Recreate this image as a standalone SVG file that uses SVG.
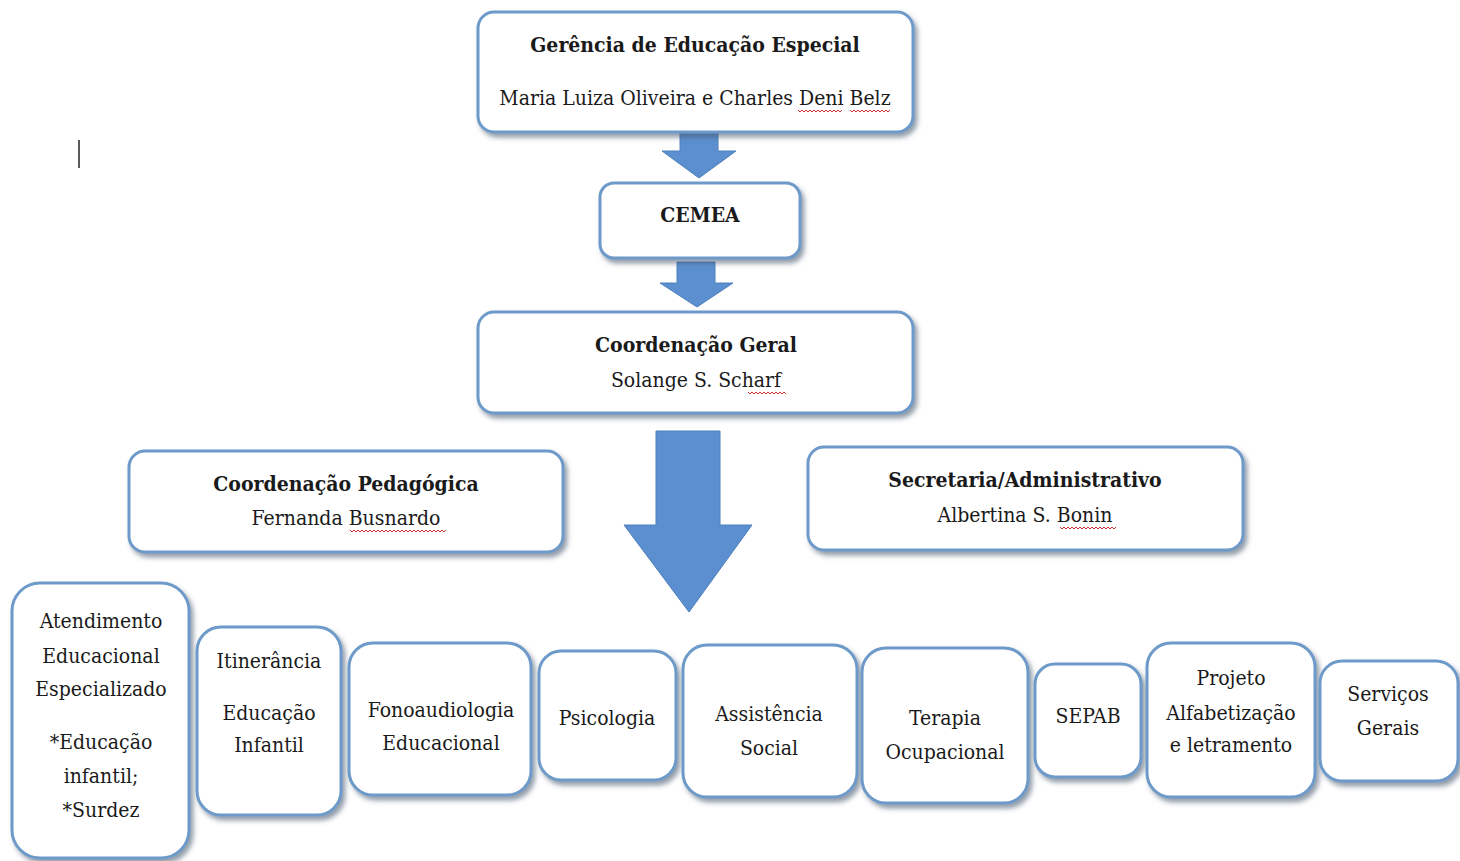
<svg xmlns="http://www.w3.org/2000/svg" width="1460" height="861" viewBox="0 0 1460 861">
<defs>
<filter id="sh" x="-10%" y="-10%" width="130%" height="140%">
<feDropShadow dx="3" dy="4" stdDeviation="2.5" flood-color="#4a5a70" flood-opacity="0.6"/>
</filter>
<style>
.box{fill:#ffffff;stroke:#6d9ac9;stroke-width:3;filter:url(#sh)}
.arr{fill:#5b8fd0;stroke:#4f80bd;stroke-width:1}
text{font-family:"DejaVu Serif","Liberation Serif",serif;font-stretch:condensed;fill:#1a1a1a;text-anchor:middle}
.b{font-weight:bold;font-size:21px}
.n{font-size:21px}
.s{font-size:21px}
.wav{fill:none;stroke:#d03030;stroke-width:1}
</style>
</defs>
<rect width="1460" height="861" fill="#ffffff"/>
<line x1="79" y1="140" x2="79" y2="168" stroke="#222" stroke-width="1.5"/>
<g id="connectors">
<polygon class="arr" points="680,132 718,132 718,151 736,151 699,178 662,151 680,151"/>
<polygon class="arr" points="677,262 715,262 715,283 733,283 697,307 660,283 677,283"/>
<polygon class="arr" points="656,431 720,431 720,525 752,525 689,612 624,525 656,525"/>
</g>
<g id="gerencia">
<rect class="box" x="478" y="12" width="435" height="120" rx="16"/>
<text class="b" x="695" y="52">Gerência de Educação Especial</text>
<text class="n" x="695" y="105">Maria Luiza Oliveira e Charles Deni Belz</text>
<path class="wav" d="M798,110 l2,2 l2,-2 l2,2 l2,-2 l2,2 l2,-2 l2,2 l2,-2 l2,2 l2,-2 l2,2 l2,-2 l2,2 l2,-2 l2,2 l2,-2 l2,2 l2,-2 l2,2 l2,-2 l2,2 l2,-2"/>
<path class="wav" d="M850,110 l2,2 l2,-2 l2,2 l2,-2 l2,2 l2,-2 l2,2 l2,-2 l2,2 l2,-2 l2,2 l2,-2 l2,2 l2,-2 l2,2 l2,-2 l2,2 l2,-2 l2,2 l2,-2"/>
</g>
<g id="cemea">
<rect class="box" x="600" y="183" width="200" height="75" rx="14"/>
<text class="b" x="700" y="222">CEMEA</text>
</g>
<g id="coord-geral">
<rect class="box" x="478" y="312" width="435" height="101" rx="16"/>
<text class="b" x="696" y="352">Coordenação Geral</text>
<text class="n" x="696" y="387">Solange S. Scharf</text>
<path class="wav" d="M748,392 l2,2 l2,-2 l2,2 l2,-2 l2,2 l2,-2 l2,2 l2,-2 l2,2 l2,-2 l2,2 l2,-2 l2,2 l2,-2 l2,2 l2,-2 l2,2 l2,-2 l2,2"/>
</g>
<g id="coord-pedagogica">
<rect class="box" x="129" y="451" width="434" height="101" rx="16"/>
<text class="b" x="346" y="491">Coordenação Pedagógica</text>
<text class="n" x="346" y="525">Fernanda Busnardo</text>
<path class="wav" d="M350,530 l2,2 l2,-2 l2,2 l2,-2 l2,2 l2,-2 l2,2 l2,-2 l2,2 l2,-2 l2,2 l2,-2 l2,2 l2,-2 l2,2 l2,-2 l2,2 l2,-2 l2,2 l2,-2 l2,2 l2,-2 l2,2 l2,-2 l2,2 l2,-2 l2,2 l2,-2 l2,2 l2,-2 l2,2 l2,-2 l2,2 l2,-2 l2,2 l2,-2 l2,2 l2,-2 l2,2 l2,-2 l2,2 l2,-2 l2,2 l2,-2 l2,2 l2,-2 l2,2 l2,-2"/>
</g>
<g id="secretaria">
<rect class="box" x="808" y="447" width="435" height="103" rx="16"/>
<text class="b" x="1025" y="487">Secretaria/Administrativo</text>
<text class="n" x="1025" y="522">Albertina S. Bonin</text>
<path class="wav" d="M1060,527 l2,2 l2,-2 l2,2 l2,-2 l2,2 l2,-2 l2,2 l2,-2 l2,2 l2,-2 l2,2 l2,-2 l2,2 l2,-2 l2,2 l2,-2 l2,2 l2,-2 l2,2 l2,-2 l2,2 l2,-2 l2,2 l2,-2 l2,2 l2,-2 l2,2 l2,-2"/>
</g>
<g id="aee">
<rect class="box" x="12" y="583" width="177" height="275" rx="28"/>
<text class="s" x="101" y="628">Atendimento</text>
<text class="s" x="101" y="663">Educacional</text>
<text class="s" x="101" y="696">Especializado</text>
<text class="s" x="101" y="749">*Educação</text>
<text class="s" x="101" y="783">infantil;</text>
<text class="s" x="101" y="817">*Surdez</text>
</g>
<g id="itinerancia">
<rect class="box" x="197" y="627" width="144" height="188" rx="24"/>
<text class="s" x="269" y="668">Itinerância</text>
<text class="s" x="269" y="720">Educação</text>
<text class="s" x="269" y="752">Infantil</text>
</g>
<g id="fono">
<rect class="box" x="349" y="643" width="182" height="152" rx="24"/>
<text class="s" x="441" y="717">Fonoaudiologia</text>
<text class="s" x="441" y="750">Educacional</text>
</g>
<g id="psicologia">
<rect class="box" x="539" y="651" width="137" height="129" rx="22"/>
<text class="s" x="607" y="725">Psicologia</text>
</g>
<g id="assistencia">
<rect class="box" x="683" y="645" width="174" height="152" rx="24"/>
<text class="s" x="769" y="721">Assistência</text>
<text class="s" x="769" y="755">Social</text>
</g>
<g id="terapia">
<rect class="box" x="862" y="648" width="166" height="155" rx="24"/>
<text class="s" x="945" y="725">Terapia</text>
<text class="s" x="945" y="759">Ocupacional</text>
</g>
<g id="sepab">
<rect class="box" x="1035" y="664" width="106" height="113" rx="20"/>
<text class="s" x="1088" y="723">SEPAB</text>
</g>
<g id="projeto">
<rect class="box" x="1147" y="643" width="168" height="154" rx="24"/>
<text class="s" x="1231" y="685">Projeto</text>
<text class="s" x="1231" y="720">Alfabetização</text>
<text class="s" x="1231" y="752">e letramento</text>
</g>
<g id="servicos">
<rect class="box" x="1320" y="661" width="138" height="120" rx="22"/>
<text class="s" x="1388" y="701">Serviços</text>
<text class="s" x="1388" y="735">Gerais</text>
</g>
</svg>
